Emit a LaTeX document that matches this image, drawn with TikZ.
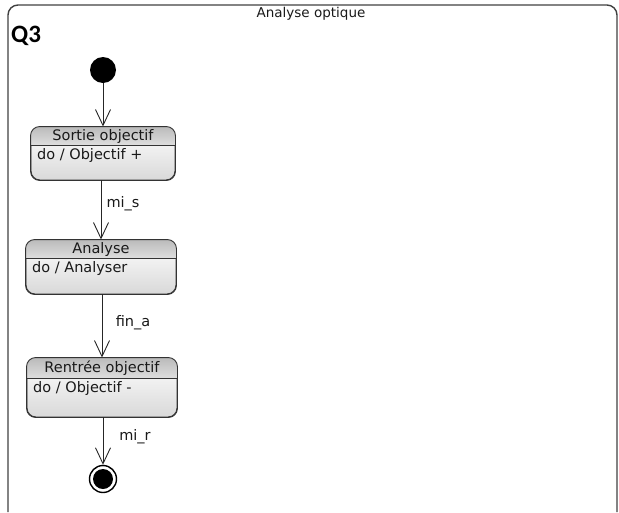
\documentclass[tikz,border=0pt]{standalone}
\usepackage{fontspec}
\setmainfont{DejaVu Sans}
\newfontfamily\headfont{Carlito}
\usetikzlibrary{arrows.meta,calc}

% A UML state: name, x1, y1, x2, y2, y of the header line, title, action
\newcommand\umlstate[8]{%
  \node[statebox, top color=white, bottom color=black!15,
        minimum width={(#4-#2)*1pt}, minimum height={(#5-#3)*1pt}]
        (#1) at ({(#2+#4)/2},{(#3+#5)/2}) {};
  \begin{scope}
    \clip[rounded corners=9pt] (#1.north west) rectangle (#1.south east);
    \shade[top color=black!27, bottom color=black!13]
      (#1.north west) rectangle (#4,#6);
  \end{scope}
  \draw[statebox] (#1.north west) rectangle (#1.south east);
  \draw[black!80, line width=0.9pt] (#2,#6) -- (#4,#6);
  \node[lbl] (#1-title) at ({(#2+#4)/2},{(#3+#6)/2}) {#7};
  \node[lbl, anchor=west] (#1-do) at ({#2+6},{#6+10}) {#8};
}

\begin{document}
\begin{tikzpicture}[x=1pt, y=-1pt,
  statebox/.style={draw=black!80, line width=0.9pt, rounded corners=9pt,
                   inner sep=0pt, rectangle},
  trans/.style={draw=black!85, line width=0.9pt,
                -{Straight Barb[length=16pt, width=15pt, line width=0.9pt]}},
  lbl/.style={font=\fontsize{14.5}{16}\selectfont, inner sep=0pt,
              text=black!90},
]
\useasboundingbox (0,0) rectangle (619,512);

% enclosing frame, open at the bottom
\draw[black!75, line width=1.4pt, rounded corners=10pt]
  (8,512) -- (8,5) -- (617,5) -- (617,512);
\node[lbl, font=\fontsize{13.5}{15}\selectfont] (frametitle) at (311,14) {Analyse optique};
\node[anchor=west, inner sep=0pt, font=\headfont\bfseries\fontsize{25}{28}\selectfont]
  (q) at (11,36) {Q3};

% initial pseudo-state
\node[circle, fill=black, minimum size=26pt, inner sep=0pt] (init) at (103,70) {};

% states
\umlstate{s1}{31}{127}{175}{180}{145}{Sortie objectif}{do / Objectif +}
\umlstate{s2}{26}{240}{176}{294}{258}{Analyse}{do / Analyser}
\umlstate{s3}{27}{358}{177}{417}{378}{Rentrée objectif}{do / Objectif -}

% final state
\node[circle, draw=black, line width=1.4pt, minimum size=27pt, inner sep=0pt]
  (final) at (103,479) {};
\node[circle, fill=black, minimum size=20pt, inner sep=0pt] (finaldot) at (final) {};

% transitions
\draw[trans] (init.south) -- (init.south |- s1.north);
\draw[trans] (s1.south -| 101,0) -- (s2.north -| 101,0);
\draw[trans] (s2.south -| 102,0) -- (s3.north -| 102,0);
\draw[trans] (s3.south -| 103,0) -- (final.north);

\node[lbl] (t1) at (123,204) {mi\_s};
\node[lbl] (t2) at (133,323) {fin\_a};
\node[lbl] (t3) at (135,437) {mi\_r};
\end{tikzpicture}
\end{document}
